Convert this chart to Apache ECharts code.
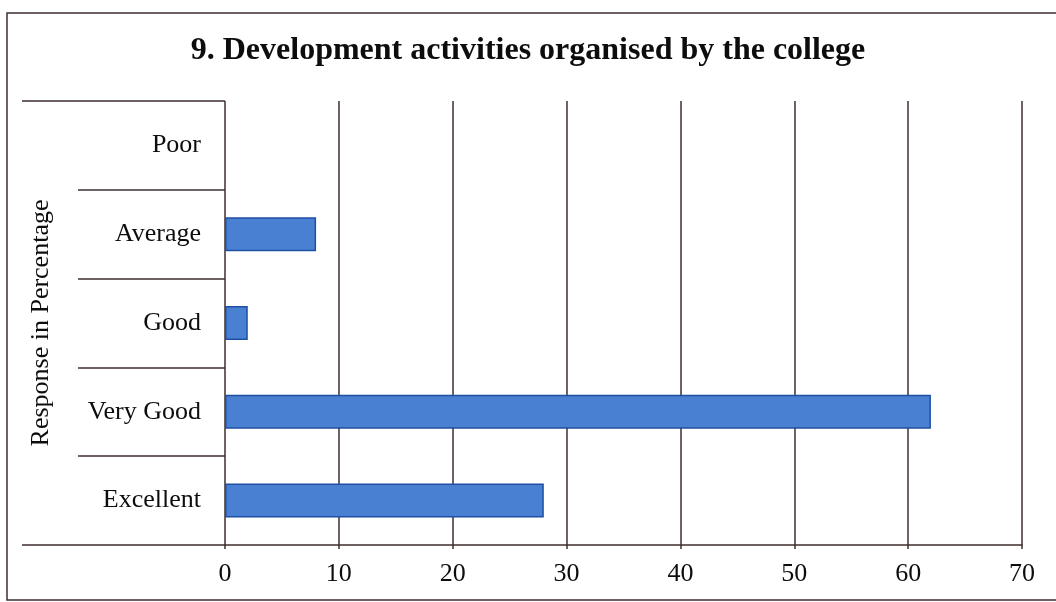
<!DOCTYPE html>
<html>
<head>
<meta charset="utf-8">
<script src="https://cdn.jsdelivr.net/npm/echarts@6/dist/echarts.min.js"></script>
<style>
html,body{margin:0;padding:0;background:#ffffff;}
#chart{width:1056px;height:602px;}
</style>
</head>
<body>
<div id="chart"></div>
<script>
const titleText = '9. Development activities organised by the college';
const categories = ['Excellent', 'Very Good', 'Good', 'Average', 'Poor'];
const responses = [28, 62, 2, 8, 0];
const xTicks = { min: 0, max: 70, interval: 10 };
const yAxisTitle = 'Response in Percentage';

const lineColor = '#3f2e2e';
const textColor = '#0d0d0d';
const fontFamily = '"Liberation Serif", "DejaVu Serif", serif';

const barData = responses.map(v => ({
  value: v,
  itemStyle: v === 0 ? { borderWidth: 0 } : {}
}));

const chart = echarts.init(document.getElementById('chart'), null, { renderer: 'canvas' });
chart.setOption({
  backgroundColor: '#ffffff',
  animation: false,
  title: {
    text: titleText,
    left: 'center',
    top: 30,
    textStyle: { fontFamily: fontFamily, fontWeight: 'bold', fontSize: 32, color: textColor }
  },
  graphic: [
    {
      type: 'rect',
      shape: { x: 7, y: 13, width: 1060, height: 587 },
      style: { fill: 'none', stroke: lineColor, lineWidth: 1.5 },
      silent: true
    }
  ],
  grid: { left: 225, right: 34, top: 101, bottom: 57, containLabel: false },
  xAxis: {
    type: 'value',
    min: xTicks.min,
    max: xTicks.max,
    interval: xTicks.interval,
    axisLine: { show: true, lineStyle: { color: lineColor, width: 1.5 } },
    axisTick: { show: true, length: 4, lineStyle: { color: lineColor, width: 1.5 } },
    splitLine: { show: true, lineStyle: { color: lineColor, width: 1.5 } },
    axisLabel: { color: textColor, fontFamily: fontFamily, fontSize: 26, margin: 16 }
  },
  yAxis: [
    {
      type: 'category',
      data: categories,
      position: 'left',
      axisLine: { show: false },
      axisTick: { show: true, length: 147, lineStyle: { color: lineColor, width: 1.5 } },
      axisLabel: { color: textColor, fontFamily: fontFamily, fontSize: 26, margin: 24, padding: [6, 0, 0, 0] },
      name: yAxisTitle,
      nameLocation: 'middle',
      nameGap: 171,
      nameRotate: 90,
      nameTextStyle: { color: textColor, fontFamily: fontFamily, fontSize: 26 }
    },
    {
      type: 'category',
      data: [''],
      position: 'left',
      offset: 0,
      axisLine: { show: false },
      axisTick: { show: true, length: 203, lineStyle: { color: lineColor, width: 1.5 } },
      axisLabel: { show: false },
      splitLine: { show: false }
    }
  ],
  series: [
    {
      type: 'bar',
      yAxisIndex: 0,
      data: barData,
      barWidth: 34,
      itemStyle: { color: '#4a80d2', borderColor: '#1f4fa3', borderWidth: 1.5 }
    }
  ]
});
</script>
</body>
</html>
